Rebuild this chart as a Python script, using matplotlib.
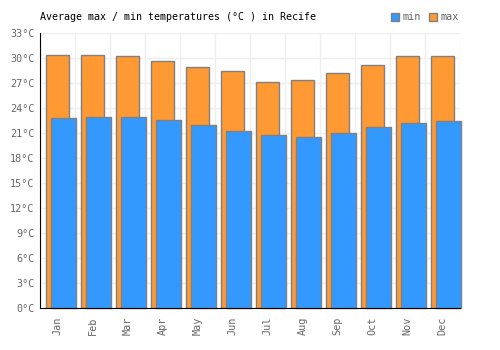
import matplotlib
matplotlib.use("Agg")
import matplotlib.pyplot as plt
import numpy as np
from matplotlib.ticker import FixedLocator, FuncFormatter

months = ["Jan", "Feb", "Mar", "Apr", "May", "Jun", "Jul", "Aug", "Sep", "Oct", "Nov", "Dec"]
t_max = [30.4, 30.4, 30.2, 29.7, 28.9, 28.4, 27.1, 27.4, 28.2, 29.2, 30.2, 30.3]
t_min = [22.8, 22.9, 22.9, 22.6, 22.0, 21.3, 20.8, 20.5, 21.0, 21.7, 22.2, 22.4]
yticks = list(range(0, 34, 3))

plt.rcParams['font.family'] = ['DejaVu Sans Mono']

fig = plt.figure(figsize=(5, 3.5), dpi=100)
ax = fig.add_axes([0.08, 0.12, 0.84, 0.7857])

x = np.arange(len(months))
ax.bar(x, t_max, width=0.66, color="#ff9933", edgecolor="#808080", linewidth=1, zorder=2, label="max")
ax.bar(x + 0.17, t_min, width=0.7, color="#3399ff", edgecolor="#808080", linewidth=1, zorder=3, label="min", clip_on=False)

ax.set_xlim(-0.5, 11.5)
ax.set_ylim(0, 33)
ax.set_yticks(yticks)
ax.yaxis.set_major_formatter(FuncFormatter(lambda v, p: f"{int(v)}°C"))
ax.set_xticks(x)
ax.set_xticklabels(months, rotation=90)
ax.xaxis.set_minor_locator(FixedLocator(np.arange(-0.5, 12, 1)))
ax.grid(axis='y', which='major', color="#eeeeee", linewidth=1, zorder=0)
ax.grid(axis='x', which='minor', color="#eeeeee", linewidth=1, zorder=0)
ax.set_axisbelow(True)
ax.tick_params(axis='both', which='both', length=0, labelsize=7.3, colors="#666666", pad=4)
ax.tick_params(axis='x', pad=6)
for s in ["top", "right"]:
    ax.spines[s].set_visible(False)
for s in ["left", "bottom"]:
    ax.spines[s].set_color("black")
    ax.spines[s].set_zorder(5)

fig.text(0.08, 0.95, "Average max / min temperatures (°C ) in Recife", fontsize=7.2, color="black", va="center", ha="left")

handles, labels = ax.get_legend_handles_labels()
leg = fig.legend(handles[::-1], labels[::-1], loc="center right", bbox_to_anchor=(0.925, 0.95), ncol=2,
                 frameon=False, fontsize=7.3, handlelength=0.8, handleheight=0.8, handletextpad=0.3,
                 columnspacing=0.8, borderaxespad=0)
for t in leg.get_texts():
    t.set_color("#666666")

fig.savefig("out.png", dpi=100)
